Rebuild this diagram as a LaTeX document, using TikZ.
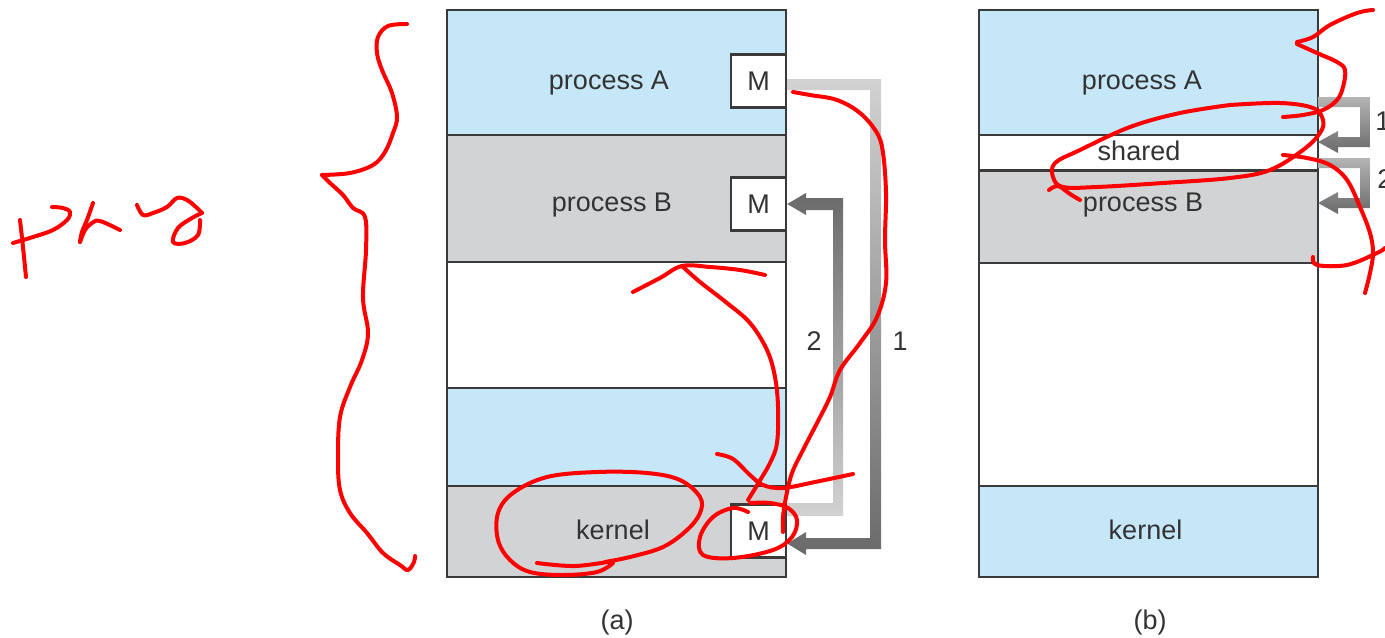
\documentclass[tikz,border=0pt]{standalone}
\usepackage{fontspec}
\setmainfont{Liberation Sans}
\usetikzlibrary{calc}
\definecolor{pblue}{HTML}{C6E7F8}
\definecolor{pgray}{HTML}{D2D3D5}
\definecolor{edge}{HTML}{3A3A3A}
\definecolor{ink}{HTML}{333333}
\definecolor{arrlight}{HTML}{D2D2D2}
\definecolor{arrdark}{HTML}{6A6A6A}
\definecolor{arrmid}{HTML}{B4B4B4}
\definecolor{scr}{HTML}{FF0000}
\begin{document}
\begin{tikzpicture}[x=0.5pt,y=-0.5pt,
  seg/.style={draw=edge,line width=0.9pt},
  lbl/.style={anchor=base,text=ink,font=\fontsize{13.5}{16}\selectfont,inner sep=0pt},
  mbox/.style={draw=edge,line width=1.2pt,fill=white,minimum width=27.5pt,minimum height=26.5pt,inner sep=0pt,text=ink,font=\fontsize{13.5}{16}\selectfont},
  scrib/.style={draw=scr,line width=2pt,line cap=round,line join=round},
]
\useasboundingbox (0,0) rectangle (1385,637);
\fill[white] (0,0) rectangle (1385,637);

% ---------- panel (a) ----------
\draw[seg,fill=pblue] (447,10) rectangle (786,135);
\draw[seg,fill=pgray] (447,135) rectangle (786,262);
\draw[seg,fill=white] (447,262) rectangle (786,388);
\draw[seg,fill=pblue] (447,388) rectangle (786,486);
\draw[seg,fill=pgray] (447,486) rectangle (786,577);
\node[lbl] (aA) at (609,89) {process A};
\node[lbl] (aB) at (612,211) {process B};
\node[lbl] (aK) at (613,539) {kernel};

% arrows (a)
\node[mbox] (MA) at (758.5,81) {M};
\node[mbox] (MB) at (758.5,204) {M};
\node[mbox] (MK) at (758.5,531) {M};

\shade[top color=arrlight,bottom color=arrdark]
  ($(MA.east)+(0,-2)$) -- (881,79) -- (881,549) -- (806,549) -- (806,555)
  -- ($(MK.east)+(0,12.5)$) -- (806,532) -- (806,538) -- (870,538) -- (870,90)
  -- ($(MA.east)+(0,9)$) -- cycle;
\shade[top color=arrdark,bottom color=arrlight]
  ($(MK.east)+(0,-15)$) -- (843,516) -- (843,198) -- (806,198) -- (806,193)
  -- (MB.east) -- (806,215) -- (806,210) -- (833,210) -- (833,503)
  -- ($(MK.east)+(0,-28)$) -- cycle;
\node[lbl] (l2a) at (814,350) {2};
\node[lbl] (l1a) at (900,350) {1};
\node[lbl] (capa) at (617,629) {(a)};

% ---------- panel (b) ----------
\draw[seg,fill=pblue] (979,10) rectangle (1318,135);
\draw[seg,fill=white] (979,135) rectangle (1318,170);
\draw[seg,fill=pgray] (979,170) rectangle (1318,263);
\draw[seg,fill=white] (979,263) rectangle (1318,486);
\draw[seg,fill=pblue] (979,486) rectangle (1318,577);
\draw[draw=edge,line width=1.5pt] (979,170) -- (1318,170);
\node[lbl] (bA) at (1142,89) {process A};
\node[lbl] (bS) at (1139,160) {shared};
\node[lbl] (bB) at (1143,211) {process B};
\node[lbl] (bK) at (1145.5,539) {kernel};

\coordinate (b1s) at (1318,102);
\coordinate (b1e) at (1318,142);
\coordinate (b2s) at (1318,163);
\coordinate (b2e) at (1318,203);
\shade[top color=arrmid,bottom color=arrdark]
  ($(b1s)+(0,-5)$) -- (1370,97) -- (1370,147) -- (1338,147) -- (1338,153)
  -- (b1e) -- (1338,131) -- (1338,137) -- (1360,137) -- (1360,107)
  -- ($(b1s)+(0,5)$) -- cycle;
\shade[top color=arrmid,bottom color=arrdark]
  ($(b2s)+(0,-5)$) -- (1370,158) -- (1370,208) -- (1338,208) -- (1338,214)
  -- (b2e) -- (1338,192) -- (1338,198) -- (1360,198) -- (1360,168)
  -- ($(b2s)+(0,5)$) -- cycle;
\node[lbl,anchor=base west] (l1b) at (1375,130) {1};
\node[lbl,anchor=base west] (l2b) at (1377,188) {2};
\node[lbl] (capb) at (1150,629) {(b)};

% ---------- red handwriting ----------
% brace
\draw[scrib] plot[smooth,tension=0.6] coordinates {(407,24) (388,26) (378,37) (377,53) (382,70) (392,93) (397,117) (393,133) (385,152) (373,165) (350,173) (322,175)};
\draw[scrib] plot[smooth,tension=0.6] coordinates {(322,175) (330,183) (343,195) (353,208) (365,217) (366,250) (363,298) (368,333) (362,360) (350,387) (340,417) (338,457) (340,490) (350,513) (367,533) (383,553) (400,565) (408,570) (414,562) (415,556)};
% "prg"
\draw[scrib] plot[smooth,tension=0.6] coordinates {(20,220) (23,247) (26,277)};
\draw[scrib] plot[smooth,tension=0.6] coordinates {(13,243) (33,237) (53,230) (67,220) (70,212) (63,208) (52,207)};
\draw[scrib] plot[smooth,tension=0.6] coordinates {(93,203) (87,220) (82,232) (80,242)};
\draw[scrib] plot[smooth,tension=0.6] coordinates {(80,242) (85,230) (92,223) (100,221) (120,230)};
\draw[scrib] plot[smooth,tension=0.6] coordinates {(137,205) (143,215) (153,213) (167,207) (177,198) (187,200) (197,208) (202,213)};
\draw[scrib] plot[smooth,tension=0.6] coordinates {(202,213) (192,218) (178,228) (173,242) (185,243) (198,235) (200,220)};
% panel (a)
\draw[scrib] plot[smooth,tension=0.6] coordinates {(793,92) (810,95) (837,100) (860,113) (877,133) (883,153) (886,193) (885,240) (886,283) (877,317) (860,343) (840,370) (830,397) (817,423) (803,450) (792,473) (786,497) (783,517) (783,532)};
\draw[scrib] plot[smooth,tension=0.6] coordinates {(633,292) (660,278) (682,266) (710,267) (740,270) (765,275)};
\draw[scrib] plot[smooth,tension=0.6] coordinates {(682,266) (700,282) (727,303) (750,323) (767,350) (775,377) (778,407) (777,443) (770,463) (759,482) (748,500)};
\draw[scrib] plot[smooth,tension=0.6] coordinates {(717,454) (733,459) (750,475) (763,485) (783,488) (815,482) (853,474)};
\draw[scrib] plot[smooth,tension=0.6] coordinates {(748,512) (733,508) (713,517) (700,537) (703,555) (733,558) (773,550) (792,537) (797,520) (788,508) (770,503) (750,503)};
\draw[scrib] plot[smooth,tension=0.6] coordinates {(537,563) (575,566) (613,561)};
\draw[scrib] plot[smooth,tension=0.6] coordinates {(613,563) (597,572) (563,575) (530,572) (510,560) (498,540) (498,513) (513,493) (547,477) (597,472) (647,473) (680,480) (700,497) (700,513) (687,530) (663,547) (630,557) (605,562)};
% panel (b)
\draw[scrib] plot[smooth,tension=0.6] coordinates {(1373,10) (1357,13) (1330,25) (1313,37) (1297,42)};
\draw[scrib] plot[smooth,tension=0.6] coordinates {(1297,44) (1317,53) (1337,62) (1345,70) (1343,87) (1337,100) (1323,110) (1303,115) (1283,117)};
\draw[scrib] plot[smooth,tension=0.6] coordinates {(1230,105) (1280,103) (1313,108) (1323,120) (1320,133) (1303,150) (1270,170) (1230,178) (1163,183) (1097,187) (1063,187) (1053,177) (1055,163) (1080,150) (1130,127) (1180,113) (1230,105)};
\draw[scrib] plot[smooth,tension=0.6] coordinates {(1049,190) (1058,186) (1070,194) (1080,200)};
\draw[scrib] plot[smooth,tension=0.6] coordinates {(1283,155) (1307,158) (1330,165) (1347,180) (1360,207) (1370,233) (1373,253) (1370,273) (1365,293)};
\draw[scrib] plot[smooth,tension=0.6] coordinates {(1313,257) (1317,265) (1347,265) (1377,253) (1385,248)};
\end{tikzpicture}
\end{document}
